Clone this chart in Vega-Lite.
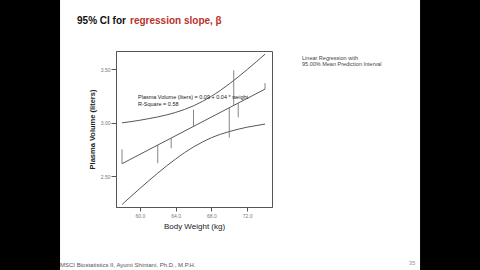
{
  "$schema": "https://vega.github.io/schema/vega-lite/v6.json",
  "background": "white",
  "autosize": {"type": "none"},
  "padding": {"left": 116, "top": 51, "right": 208, "bottom": 63},
  "width": 156,
  "height": 156,
  "config": {"font": "Liberation Sans", "axis": {"grid": false}},
  "view": {"stroke": "#555", "strokeWidth": 1},
  "datasets": {
    "curves": [
      {"weight": 58, "volume": 2.998, "curve": "upper"}, {"weight": 59, "volume": 3.009, "curve": "upper"},
      {"weight": 60, "volume": 3.022, "curve": "upper"}, {"weight": 61, "volume": 3.037, "curve": "upper"},
      {"weight": 62, "volume": 3.053, "curve": "upper"}, {"weight": 63, "volume": 3.072, "curve": "upper"},
      {"weight": 64, "volume": 3.095, "curve": "upper"}, {"weight": 65, "volume": 3.123, "curve": "upper"},
      {"weight": 66, "volume": 3.157, "curve": "upper"}, {"weight": 67, "volume": 3.198, "curve": "upper"},
      {"weight": 68, "volume": 3.246, "curve": "upper"}, {"weight": 69, "volume": 3.301, "curve": "upper"},
      {"weight": 70, "volume": 3.362, "curve": "upper"}, {"weight": 71, "volume": 3.427, "curve": "upper"},
      {"weight": 72, "volume": 3.496, "curve": "upper"}, {"weight": 73, "volume": 3.567, "curve": "upper"},
      {"weight": 74, "volume": 3.640, "curve": "upper"},
      {"weight": 58, "volume": 2.233, "curve": "lower"}, {"weight": 59, "volume": 2.309, "curve": "lower"},
      {"weight": 60, "volume": 2.383, "curve": "lower"}, {"weight": 61, "volume": 2.456, "curve": "lower"},
      {"weight": 62, "volume": 2.527, "curve": "lower"}, {"weight": 63, "volume": 2.595, "curve": "lower"},
      {"weight": 64, "volume": 2.659, "curve": "lower"}, {"weight": 65, "volume": 2.719, "curve": "lower"},
      {"weight": 66, "volume": 2.772, "curve": "lower"}, {"weight": 67, "volume": 2.818, "curve": "lower"},
      {"weight": 68, "volume": 2.858, "curve": "lower"}, {"weight": 69, "volume": 2.890, "curve": "lower"},
      {"weight": 70, "volume": 2.916, "curve": "lower"}, {"weight": 71, "volume": 2.938, "curve": "lower"},
      {"weight": 72, "volume": 2.957, "curve": "lower"}, {"weight": 73, "volume": 2.972, "curve": "lower"},
      {"weight": 74, "volume": 2.986, "curve": "lower"},
      {"weight": 58, "volume": 2.6155, "curve": "fit"}, {"weight": 74, "volume": 3.3132, "curve": "fit"}
    ],
    "residuals": [
      {"weight": 58, "volume": 2.75, "predicted": 2.6155},
      {"weight": 62, "volume": 2.62, "predicted": 2.7899},
      {"weight": 63.5, "volume": 2.76, "predicted": 2.8553},
      {"weight": 66, "volume": 3.12, "predicted": 2.9644},
      {"weight": 70, "volume": 2.86, "predicted": 3.1388},
      {"weight": 70.5, "volume": 3.49, "predicted": 3.1606},
      {"weight": 71, "volume": 3.05, "predicted": 3.1824},
      {"weight": 74, "volume": 3.37, "predicted": 3.3132}
    ],
    "notes": [
      {"weight": 52.97, "volume": 3.955, "label": "95% CI for", "role": "title1"},
      {"weight": 58.9, "volume": 3.955, "label": "regression slope, β", "role": "title2"},
      {"weight": 59.79, "volume": 3.239, "label": "Plasma Volume (liters) = 0.09 + 0.04 * weight", "role": "eq"},
      {"weight": 59.79, "volume": 3.174, "label": "R-Square = 0.58", "role": "eq"},
      {"weight": 78.14, "volume": 3.609, "label": "Linear Regression with", "role": "legend"},
      {"weight": 78.14, "volume": 3.553, "label": "95.00% Mean Prediction Interval", "role": "legend"},
      {"weight": 51.07, "volume": 1.667, "label": "MSCI Biostatistics II, Ayumi Shintani, Ph.D., M.P.H.", "role": "footer"},
      {"weight": 90.44, "volume": 1.686, "label": "35", "role": "page"}
    ],
    "margins": [
      {"weight": 40, "weight2": 51.07, "volume": 1.0, "volume2": 5.0},
      {"weight": 91.34, "weight2": 102, "volume": 1.0, "volume2": 5.0}
    ]
  },
  "encoding": {
    "x": {"field": "weight", "type": "quantitative",
      "scale": {"domain": [57.33, 74.78], "nice": false, "zero": false},
      "axis": {"values": [60, 64, 68, 72], "format": ".1f", "title": "Body Weight (kg)",
        "labelFontSize": 5, "labelColor": "#777", "tickSize": 4, "tickColor": "#555", "domainColor": "#555",
        "labelPadding": 2, "titleFontSize": 8, "titleFontWeight": "normal", "titleColor": "#222", "titlePadding": 4}},
    "y": {"field": "volume", "type": "quantitative",
      "scale": {"domain": [2.21, 3.67], "nice": false, "zero": false},
      "axis": {"values": [2.5, 3, 3.5], "format": ".2f", "title": "Plasma Volume (liters)",
        "labelFontSize": 5, "labelColor": "#777", "tickSize": 5, "tickColor": "#555", "domainColor": "#555",
        "labelPadding": 1, "titleFontSize": 7.5, "titleFontWeight": "bold", "titleColor": "#222", "titlePadding": 4}}
  },
  "layer": [
    {"data": {"name": "curves"}, "mark": {"type": "line", "color": "#444", "strokeWidth": 0.9, "interpolate": "monotone"},
      "encoding": {"detail": {"field": "curve"}}},
    {"data": {"name": "residuals"}, "mark": {"type": "rule", "color": "#666", "strokeWidth": 0.8},
      "encoding": {"y2": {"field": "predicted"}}},
    {"data": {"name": "notes"}, "transform": [{"filter": "datum.role === 'title1'"}],
      "mark": {"type": "text", "align": "left", "baseline": "middle", "fontSize": 10, "fontWeight": "bold", "color": "#111"},
      "encoding": {"text": {"field": "label"}}},
    {"data": {"name": "notes"}, "transform": [{"filter": "datum.role === 'title2'"}],
      "mark": {"type": "text", "align": "left", "baseline": "middle", "fontSize": 10, "fontWeight": "bold", "color": "#b8332b"},
      "encoding": {"text": {"field": "label"}}},
    {"data": {"name": "notes"}, "transform": [{"filter": "datum.role === 'eq'"}],
      "mark": {"type": "text", "align": "left", "baseline": "middle", "fontSize": 5.5, "color": "#222"},
      "encoding": {"text": {"field": "label"}}},
    {"data": {"name": "notes"}, "transform": [{"filter": "datum.role === 'legend'"}],
      "mark": {"type": "text", "align": "left", "baseline": "middle", "fontSize": 5.5, "color": "#444"},
      "encoding": {"text": {"field": "label"}}},
    {"data": {"name": "notes"}, "transform": [{"filter": "datum.role === 'footer'"}],
      "mark": {"type": "text", "align": "left", "baseline": "middle", "fontSize": 6, "color": "#555"},
      "encoding": {"text": {"field": "label"}}},
    {"data": {"name": "notes"}, "transform": [{"filter": "datum.role === 'page'"}],
      "mark": {"type": "text", "align": "center", "baseline": "middle", "fontSize": 6, "color": "#999"},
      "encoding": {"text": {"field": "label"}}},
    {"data": {"name": "margins"}, "mark": {"type": "rect", "color": "black", "clip": false},
      "encoding": {"x2": {"field": "weight2"}, "y2": {"field": "volume2"}}}
  ]
}
